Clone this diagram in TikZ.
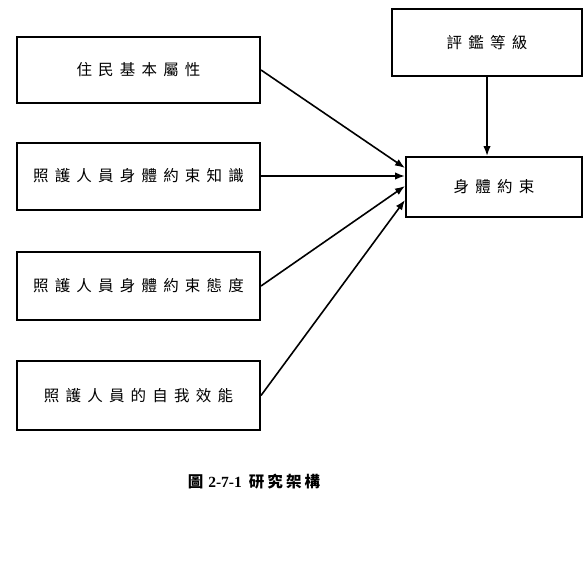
\documentclass[tikz,border=0pt]{standalone}
\usepackage{fontspec}
\setmainfont{Liberation Serif}
\newfontfamily\cjk[LetterSpace=40]{Noto Sans CJK TC}
\newfontfamily\cjkcap[LetterSpace=20]{Noto Sans CJK TC}
\usetikzlibrary{arrows.meta}
\begin{document}
\begin{tikzpicture}[x=1pt,y=-1pt,
  box/.style={draw, line width=2pt, rectangle, inner sep=0pt, font=\cjk\fontsize{15.5}{18}\selectfont},
  arr/.style={line width=1.6pt, -{Latex[length=10pt,width=7.5pt]}}]
\useasboundingbox (0,0) rectangle (588,583);
\node[box, minimum width=243pt, minimum height=66pt] (b1) at (138.5,70) {住民基本屬性};
\node[box, minimum width=243pt, minimum height=67pt] (b2) at (138.5,176) {照護人員身體約束知識};
\node[box, minimum width=243pt, minimum height=68pt] (b3) at (138.5,286) {照護人員身體約束態度};
\node[box, minimum width=243pt, minimum height=69pt] (b4) at (138.5,395.5) {照護人員的自我效能};
\node[box, minimum width=190pt, minimum height=67pt] (top) at (487,42.5) {評鑑等級};
\node[box, minimum width=176pt, minimum height=60pt] (t) at (494,187) {身體約束};
\draw[arr] (b1.east) -- ([yshift=19pt]t.west);
\draw[arr] (b2.east) -- ([yshift=11pt]t.west);
\draw[arr] (b3.east) -- ([yshift=1pt]t.west);
\draw[arr] (b4.east) -- ([yshift=-13pt]t.west);
\draw[arr] (top.south) -- (top.south |- t.north);
\node[font=\fontsize{15.5}{18}\selectfont\bfseries] (cap) at (254,482) {{\cjkcap 圖}\hspace{5pt}2-7-1\hspace{7pt}{\cjkcap 研究架構}};
\end{tikzpicture}
\end{document}
